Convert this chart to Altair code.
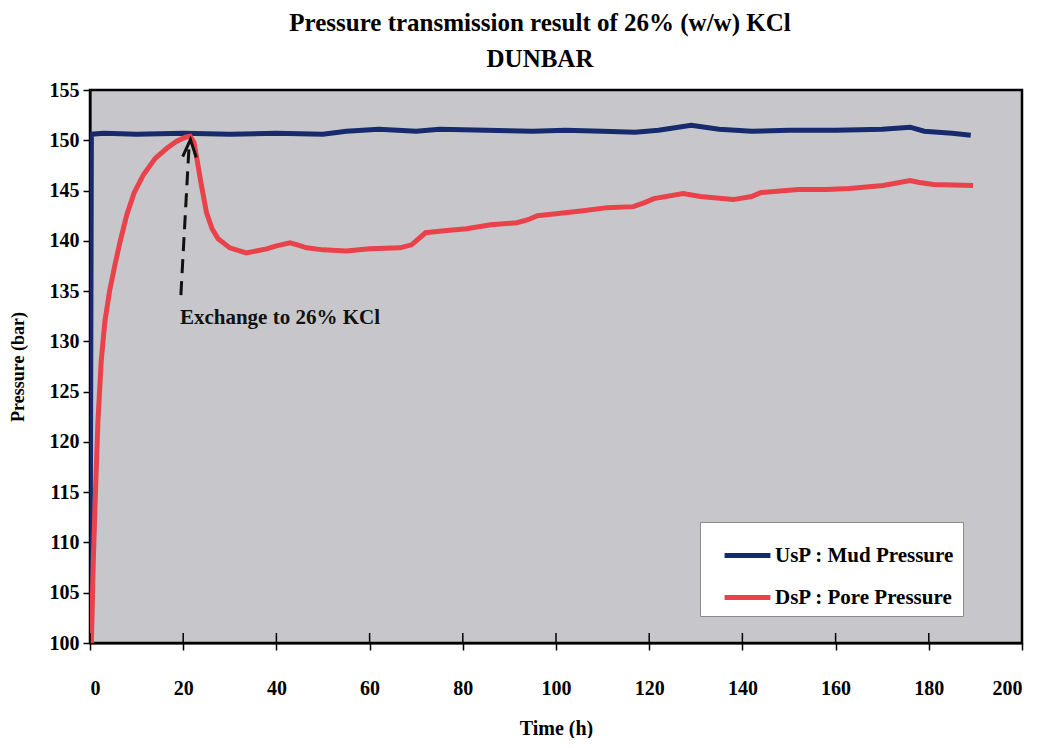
import altair as alt
import pandas as pd

# ---- data ----
usp_t = [0.0, 0.3, 3, 10, 20, 30, 40, 50, 55, 62, 70, 75, 85, 95, 102, 110, 117,
         122, 129, 135, 142, 150, 160, 170, 176, 179, 185, 189]
usp_v = [100, 150.6, 150.7, 150.6, 150.7, 150.6, 150.7, 150.6, 150.9, 151.1, 150.9,
         151.1, 151.0, 150.9, 151.0, 150.9, 150.8, 151.0, 151.5, 151.1, 150.9, 151.0,
         151.0, 151.1, 151.3, 150.9, 150.7, 150.5]

dsp_t = [0.3, 0.7, 1.1, 1.7, 2.4, 3.2, 4.2, 5.3, 6.5, 7.9, 9.5, 11.5, 14, 16.5, 18.6,
         20.5, 21.5, 22.3, 23, 23.8, 25, 26.2, 27.5, 30, 33.5, 37.9, 40, 42.9, 44.5,
         46.5, 50, 55, 60, 66.5, 69, 72, 76, 80.8, 86, 91.6, 94, 96, 100, 105.8, 111,
         116.6, 119, 121, 127.3, 131, 138, 142, 144, 152, 158, 163, 170.2, 176, 178,
         181, 189.5]
dsp_v = [100, 108, 114, 122, 128, 132, 135, 137.5, 140, 142.6, 144.8, 146.6, 148.2,
         149.2, 149.9, 150.3, 150.4, 149.8, 148, 145.8, 142.8, 141.2, 140.2, 139.3,
         138.8, 139.2, 139.5, 139.8, 139.6, 139.3, 139.1, 139.0, 139.2, 139.3, 139.6,
         140.8, 141.0, 141.2, 141.6, 141.8, 142.1, 142.5, 142.7, 143.0, 143.3, 143.4,
         143.8, 144.2, 144.7, 144.4, 144.1, 144.4, 144.8, 145.1, 145.1, 145.2, 145.5,
         146.0, 145.8, 145.6, 145.5]

series_names = ["UsP : Mud Pressure", "DsP : Pore Pressure"]
series_colors = ["#172a6e", "#e9424b"]

x_ticks = [0, 20, 40, 60, 80, 100, 120, 140, 160, 180, 200]
y_ticks = [100, 105, 110, 115, 120, 125, 130, 135, 140, 145, 150, 155]

arrow_t = [19.5, 21.3]
arrow_v = [134.6, 149.8]
arrow_head_t = [21.45]
arrow_head_v = [149.2]
note_t = [19.3]
note_v = [132.3]
note_text = ["Exchange to 26% KCl"]

title_lines = ["Pressure transmission result of 26% (w/w) KCl", "DUNBAR"]

FONT = "Liberation Serif"
W, H = 932, 553

df = pd.concat([
    pd.DataFrame({"t": usp_t, "v": usp_v, "s": series_names[0], "o": range(len(usp_t))}),
    pd.DataFrame({"t": dsp_t, "v": dsp_v, "s": series_names[1], "o": range(len(dsp_t))}),
])

xs = alt.Scale(domain=[0, 200], nice=False)
ys = alt.Scale(domain=[100, 155], nice=False, zero=False)

lines = alt.Chart(df).mark_line(strokeWidth=5, clip=True).encode(
    x=alt.X("t:Q", scale=xs,
            axis=alt.Axis(values=x_ticks, title="Time (h)", grid=False, format="d",
                          tickSize=7, tickWidth=1.5, tickColor="black",
                          domainColor="black", domainWidth=2,
                          labelPadding=28, labelFontSize=20, labelFont=FONT,
                          labelFontWeight="bold", labelColor="black",
                          titleFont=FONT, titleFontSize=20, titleFontWeight="bold",
                          titleColor="black", titlePadding=20)),
    y=alt.Y("v:Q", scale=ys,
            axis=alt.Axis(values=y_ticks, title="Pressure (bar)", grid=False,
                          tickSize=7, tickWidth=1.5, tickColor="black",
                          domainColor="black", domainWidth=2,
                          labelPadding=4, labelFontSize=20, labelFont=FONT,
                          labelFontWeight="bold", labelColor="black",
                          titleFont=FONT, titleFontSize=18, titleFontWeight="bold",
                          titleColor="black", titlePadding=22)),
    color=alt.Color("s:N", scale=alt.Scale(domain=series_names, range=series_colors),
                    legend=alt.Legend(title=None, orient="none", legendX=610, legendY=432,
                                      symbolType="stroke", symbolSize=2100,
                                      symbolStrokeWidth=5, symbolOffset=14,
                                      labelFont=FONT,
                                      labelFontSize=21, labelFontWeight="bold",
                                      labelColor="black", labelOffset=2, rowPadding=6,
                                      fillColor="white", strokeColor="#8a8a8a",
                                      padding=8, labelLimit=300)),
    order="o:Q",
)

tick_df = pd.DataFrame({"t": x_ticks})
up_ticks = alt.Chart(tick_df).mark_rule(color="black", strokeWidth=1.5).encode(
    x=alt.X("t:Q", scale=xs), y=alt.value(H - 10), y2=alt.value(H)
)

arrow_df = pd.DataFrame({"t": arrow_t, "v": arrow_v})
arrow = alt.Chart(arrow_df).mark_line(color="#111111", strokeWidth=3,
                                      strokeDash=[14, 8]).encode(
    x=alt.X("t:Q", scale=xs), y=alt.Y("v:Q", scale=ys)
)
head_df = pd.DataFrame({"t": arrow_head_t, "v": arrow_head_v})
head = alt.Chart(head_df).mark_point(
    shape="M-0.7,0.9L0,-0.9L0.7,0.9", filled=False, color="#111111",
    strokeWidth=3, size=380, opacity=1, angle=3
).encode(x=alt.X("t:Q", scale=xs), y=alt.Y("v:Q", scale=ys))

note_df = pd.DataFrame({"t": note_t, "v": note_v, "txt": note_text})
note = alt.Chart(note_df).mark_text(align="left", baseline="middle", font=FONT,
                                    fontSize=21, fontWeight="bold",
                                    color="#111111").encode(
    x=alt.X("t:Q", scale=xs), y=alt.Y("v:Q", scale=ys), text="txt:N"
)

chart = alt.layer(lines, arrow, head, note, up_ticks).properties(
    width=W, height=H,
    title=alt.TitleParams(text=title_lines, font=FONT, fontSize=25, fontWeight="bold",
                          color="black", anchor="middle", offset=8, lineHeight=36,
                          dx=-16),
    autosize=alt.AutoSizeParams(type="none"),
    padding={"left": 82, "top": 82, "right": 12, "bottom": 95},
    background="white",
).configure_view(
    fill="#c7c7cb", stroke="black", strokeWidth=2.5
)

chart.save("out.html", embed_options={"renderer": "svg", "actions": False})
